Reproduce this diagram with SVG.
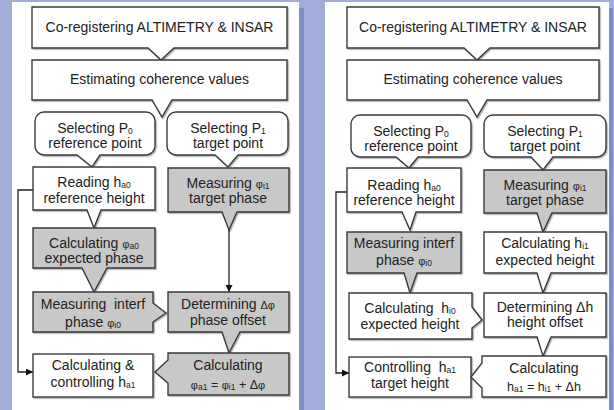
<svg xmlns="http://www.w3.org/2000/svg" width="614" height="410" viewBox="0 0 614 410">
<style>
.bx{fill:#fff;stroke:#3a3a3a;stroke-width:1.4;filter:url(#sh)}
.gy{fill:#c8c8c8;stroke:#3a3a3a;stroke-width:1.4;filter:url(#sh)}
.t{font-family:"Liberation Sans",Arial,sans-serif;font-size:14px;fill:#222;text-anchor:middle;white-space:pre}
.s{font-size:8.5px}
.p{font-size:11px}
.eq{font-size:12.5px}
.ln{fill:none;stroke:#222;stroke-width:1.3}
</style>
<defs>
<filter id="sh" x="-5%" y="-5%" width="115%" height="120%">
<feDropShadow dx="1.2" dy="1.2" stdDeviation="0.7" flood-color="#000" flood-opacity="0.3"/>
</filter>
<marker id="ah" viewBox="0 0 10 10" refX="10" refY="5" markerWidth="7" markerHeight="7" orient="auto" markerUnits="userSpaceOnUse">
<path d="M0,0 L10,5 L0,10 Z" fill="#111"/>
</marker>
</defs>
<rect x="0" y="0" width="614" height="410" fill="#a2acd8"/>
<rect x="299" y="8" width="5" height="402" fill="#7f8fc5"/>
<rect x="609" y="8" width="4" height="402" fill="#7f8fc5"/>
<rect x="12" y="2" width="287" height="408" fill="#fff"/>
<rect x="325" y="2" width="284" height="408" fill="#fff"/>

<g id="connectors">
<path class="ln" d="M229,230 V292" marker-end="url(#ah)"/>
<path class="ln" d="M33,190 H18 V372 H33" marker-end="url(#ah)"/>
<path class="ln" d="M347,192 H336 V373 H349" marker-end="url(#ah)"/>
</g>

<!-- LEFT PANEL -->
<g id="L_coreg"><path class="bx" d="M32,7 H287 V48 H174 L161,60 L148,48 H32 Z"/>
<text class="t" x="159.5" y="32">Co-registering ALTIMETRY &amp; INSAR</text></g>
<g id="L_coh"><path class="bx" d="M32,60 H287 V100 H172 L162,117 L152,100 H32 Z"/>
<text class="t" x="159.5" y="84">Estimating coherence values</text></g>
<g id="L_selP0"><path class="bx" d="M44,112 H146 A9,9 0 0 1 155,121 V146 A9,9 0 0 1 146,155 H100 L92,167 L77,155 H44 A9,9 0 0 1 35,146 V121 A9,9 0 0 1 44,112 Z"/>
<text class="t" x="95" y="133">Selecting P<tspan class="s" dy="1">0</tspan></text>
<text class="t" x="95" y="148">reference point</text></g>
<g id="L_selP1"><path class="bx" d="M176,112 H279 A9,9 0 0 1 288,121 V146 A9,9 0 0 1 279,155 H238 L228,167 L215,155 H176 A9,9 0 0 1 167,146 V121 A9,9 0 0 1 176,112 Z"/>
<text class="t" x="228" y="133">Selecting P<tspan class="s" dy="1">1</tspan></text>
<text class="t" x="228" y="148">target point</text></g>
<g id="L_read"><path class="bx" d="M33,167 H155 V210 H101 L94,228 L87,210 H33 Z"/>
<text class="t" x="94" y="187">Reading h<tspan class="s" dy="1">a0</tspan></text>
<text class="t" x="94" y="203">reference height</text></g>
<g id="L_calcphi"><path class="gy" d="M33,228 H155 V268 H107 L94,292 L82,268 H33 Z"/>
<text class="t" x="94" y="248">Calculating <tspan class="p">φ</tspan><tspan class="s" dy="1">a0</tspan></text>
<text class="t" x="94" y="263">expected phase</text></g>
<g id="L_measint"><path class="gy" d="M33,292 H153 V303 L166,313 L153,322 V332 H33 Z"/>
<text class="t" x="93" y="309">Measuring  interf</text>
<text class="t" x="93" y="327">phase <tspan class="p">φ</tspan><tspan class="s" dy="1">i0</tspan></text></g>
<g id="L_measphi"><path class="gy" d="M168,168 H289 V212 H237 L229,230 L222,212 H168 Z"/>
<text class="t" x="228" y="188">Measuring <tspan class="p">φ</tspan><tspan class="s" dy="1">i1</tspan></text>
<text class="t" x="228" y="203">target phase</text></g>
<g id="L_det"><path class="gy" d="M168,292 H289 V332 H240 L229,353 L222,332 H168 Z"/>
<text class="t" x="228" y="309">Determining <tspan class="p">Δφ</tspan></text>
<text class="t" x="228" y="325">phase offset</text></g>
<g id="L_calc"><path class="gy" d="M168,353 H289 V395 H168 V383 L155,372 L168,360 Z"/>
<text class="t" x="228" y="370">Calculating</text>
<text class="t eq" x="228" y="389"><tspan class="p">φ</tspan><tspan class="s" dy="1">a1</tspan><tspan dy="-1"> = </tspan><tspan class="p">φ</tspan><tspan class="s" dy="1">i1</tspan><tspan dy="-1"> + Δ</tspan><tspan class="p">φ</tspan></text></g>
<g id="L_ctl"><rect class="bx" x="33" y="354" width="120" height="43"/>
<text class="t" x="93" y="370">Calculating &amp;</text>
<text class="t" x="93" y="387">controlling h<tspan class="s" dy="1">a1</tspan></text></g>

<!-- RIGHT PANEL -->
<g id="R_coreg"><path class="bx" d="M347,7 H599 V48 H490 L477,60 L464,48 H347 Z"/>
<text class="t" x="473" y="32">Co-registering ALTIMETRY &amp; INSAR</text></g>
<g id="R_coh"><path class="bx" d="M347,60 H599 V100 H487 L477,117 L467,100 H347 Z"/>
<text class="t" x="473" y="84">Estimating coherence values</text></g>
<g id="R_selP0"><path class="bx" d="M360,115 H462 A9,9 0 0 1 471,124 V148 A9,9 0 0 1 462,157 H418 L409,168 L396,157 H360 A9,9 0 0 1 351,148 V124 A9,9 0 0 1 360,115 Z"/>
<text class="t" x="411" y="136">Selecting P<tspan class="s" dy="1">0</tspan></text>
<text class="t" x="411" y="151">reference point</text></g>
<g id="R_selP1"><path class="bx" d="M493,115 H597 A9,9 0 0 1 606,124 V148 A9,9 0 0 1 597,157 H553 L543,170 L531,157 H493 A9,9 0 0 1 484,148 V124 A9,9 0 0 1 493,115 Z"/>
<text class="t" x="545" y="136">Selecting P<tspan class="s" dy="1">1</tspan></text>
<text class="t" x="545" y="151">target point</text></g>
<g id="R_read"><path class="bx" d="M347,168 H461 V212 H416 L410,230 L402,212 H347 Z"/>
<text class="t" x="404" y="190">Reading h<tspan class="s" dy="1">a0</tspan></text>
<text class="t" x="404" y="205">reference height</text></g>
<g id="R_measphi"><path class="gy" d="M484,170 H606 V213 H552 L543,232 L537,213 H484 Z"/>
<text class="t" x="545" y="190">Measuring <tspan class="p">φ</tspan><tspan class="s" dy="1">i1</tspan></text>
<text class="t" x="545" y="205">target phase</text></g>
<g id="R_measint"><path class="gy" d="M347,232 H461 V273 H417 L410,293 L404,273 H347 Z"/>
<text class="t" x="404" y="248">Measuring interf</text>
<text class="t" x="404" y="265">phase <tspan class="p">φ</tspan><tspan class="s" dy="1">i0</tspan></text></g>
<g id="R_calchi1"><path class="bx" d="M484,232 H606 V273 H551 L543,293 L537,273 H484 Z"/>
<text class="t" x="545" y="248">Calculating h<tspan class="s" dy="1">i1</tspan></text>
<text class="t" x="545" y="265">expected height</text></g>
<g id="R_calchi0"><path class="bx" d="M349,293 H472 V307 L482,320 L472,328 V339 H349 Z"/>
<text class="t" x="410" y="313">Calculating  h<tspan class="s" dy="1">i0</tspan></text>
<text class="t" x="410" y="329">expected height</text></g>
<g id="R_det"><path class="bx" d="M484,293 H606 V337 H551 L543,356 L537,337 H484 Z"/>
<text class="t" x="545" y="312">Determining Δh</text>
<text class="t" x="545" y="327">height offset</text></g>
<g id="R_ctl"><rect class="bx" x="349" y="357" width="122" height="40"/>
<text class="t" x="410" y="372">Controlling  h<tspan class="s" dy="1">a1</tspan></text>
<text class="t" x="410" y="388">target height</text></g>
<g id="R_calc"><path class="bx" d="M482,356 H606 V397 H482 V388 L471,377 L482,363 Z"/>
<text class="t" x="544" y="373">Calculating</text>
<text class="t eq" x="544" y="391">h<tspan class="s" dy="1">a1</tspan><tspan dy="-1"> = h</tspan><tspan class="s" dy="1">i1</tspan><tspan dy="-1"> + Δh</tspan></text></g>
</svg>
